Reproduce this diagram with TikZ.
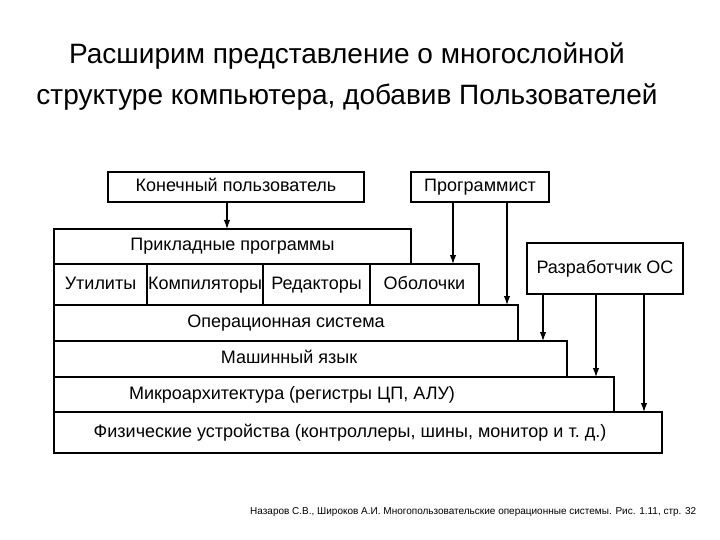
\documentclass[tikz,border=0pt]{standalone}
\usepackage{fontspec}
\setmainfont{Liberation Sans}
\usetikzlibrary{arrows.meta,positioning,calc}
\tikzset{
  >={Latex[length=9pt,width=6.5pt]},
  box/.style={draw, line width=1.3pt, anchor=north west, inner sep=0pt, outer sep=0pt, align=center, text height=12.5pt, text depth=3.5pt, font=\fontsize{18}{20}\selectfont},
  lbl/.style={inner sep=0pt, text height=12.5pt, text depth=3.5pt, font=\fontsize{18}{20}\selectfont},
  ttl/.style={align=center, inner sep=0pt, font=\fontsize{28}{41}\selectfont},
  note/.style={inner sep=0pt, font=\fontsize{10}{12}\selectfont},
  link/.style={->, line width=1.2pt},
}

\begin{document}
\begin{tikzpicture}[x=1pt, y=-1pt]
  \useasboundingbox[fill=white] (0,0) rectangle (720,540);
  \node[ttl] (title) at (347,77) {Расширим представление о многослойной\\структуре компьютера, добавив Пользователей};

  % users
  \node[box, minimum width=256pt, minimum height=30pt] (enduser) at (108,172) {Конечный пользователь};
  \node[box, minimum width=138pt, minimum height=30pt] (prog) at (411,172) {Программист};
  \node[box, minimum width=156pt, minimum height=51pt] (osdev) at (527,243) {Разработчик ОС};

  % layers
  \node[box, minimum width=357pt, minimum height=35pt] (apps) at (54,229) {Прикладные программы};
  \node[box, minimum width=93pt, minimum height=41pt] (util) at (apps.south west) {Утилиты};
  \node[box, minimum width=116pt, minimum height=41pt] (comp) at (util.north east) {Компиляторы};
  \node[box, minimum width=107pt, minimum height=41pt] (edit) at (comp.north east) {Редакторы};
  \node[box, minimum width=109pt, minimum height=41pt] (shell) at (edit.north east) {Оболочки};
  \node[box, minimum width=464pt, minimum height=36pt] (os) at (util.south west) {Операционная система};
  \node[box, minimum width=513pt, minimum height=36pt] (ml) at (os.south west) {};
  \node[box, minimum width=560pt, minimum height=35pt] (micro) at (ml.south west) {};
  \node[box, minimum width=608pt, minimum height=41pt] (phys) at (micro.south west) {};
  \node[lbl] (mltext) at ($(ml.west)+(235,0)$) {Машинный язык};
  \node[lbl] (microtext) at ($(micro.west)+(238,0)$) {Микроархитектура (регистры ЦП, АЛУ)};
  \node[lbl] (phystext) at ($(phys.west)+(296,0)$) {Физические устройства (контроллеры, шины, монитор и т.~д.)};

  % arrows
  \draw[link] ([xshift=-9pt]enduser.south) -- ([xshift=-9pt]enduser.south |- apps.north);
  \draw[link] ([xshift=42pt]prog.south west) -- ([xshift=42pt]prog.south west |- shell.north);
  \draw[link] ([xshift=96pt]prog.south west) -- ([xshift=96pt]prog.south west |- os.north);
  \foreach \dx/\dst in {16/ml, 69/micro, 117/phys}
    \draw[link] ([xshift=\dx pt]osdev.south west) -- ([xshift=\dx pt]osdev.south west |- \dst.north);

  \node[note, anchor=west] (src) at (250,512) {Назаров С.В., Широков А.И. Многопользовательские операционные системы. Рис. 1.11, стр. 32};
\end{tikzpicture}
\end{document}
